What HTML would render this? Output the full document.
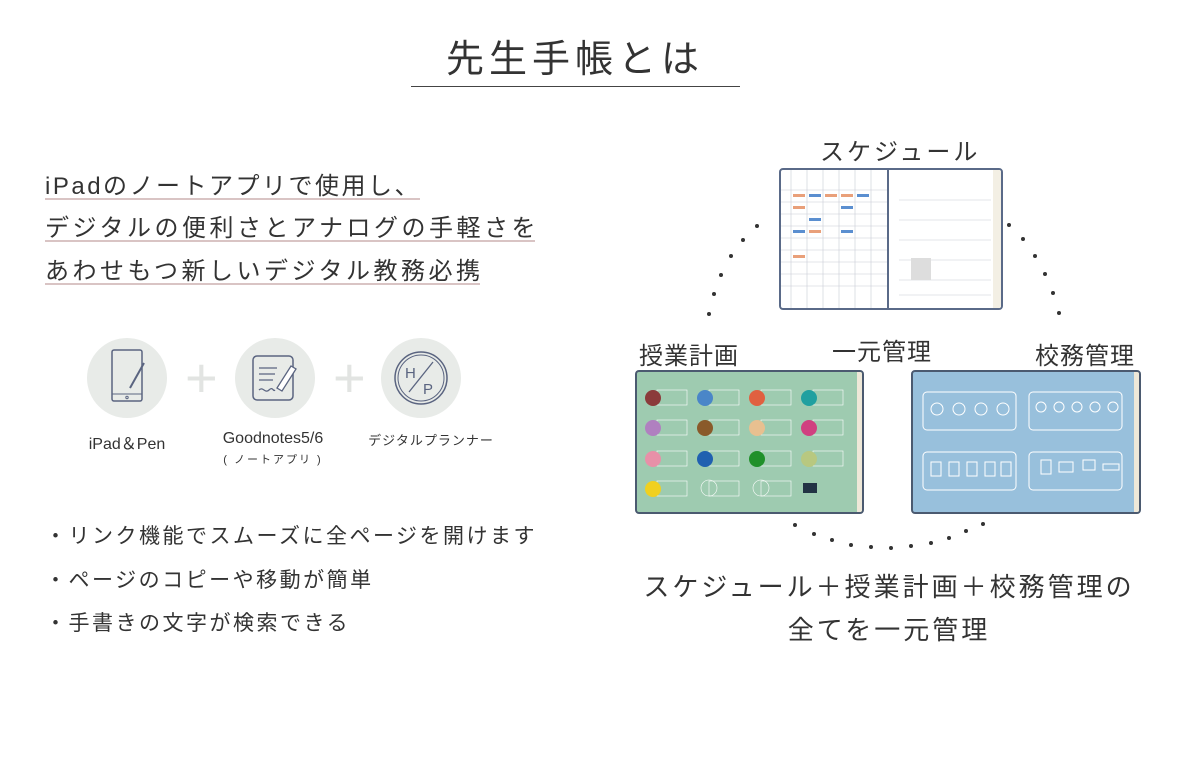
<!DOCTYPE html>
<html><head><meta charset="utf-8"><style>
*{margin:0;padding:0;box-sizing:border-box}
body{width:1200px;height:764px;background:#fff;position:relative;overflow:hidden;font-family:"Liberation Sans","Noto Sans CJK JP",sans-serif;color:#333}
.a{position:absolute;white-space:nowrap}
.ul{position:absolute;height:2px;background:#d9c4c4}
.circ{position:absolute;width:80px;height:80px;border-radius:50%;background:#e8ebe8}
.plus{position:absolute;color:#e2e4e2;font-size:56px;font-weight:100;line-height:1}
.lab{position:absolute;font-size:16px;text-align:center;transform:translateX(-50%)}
.dot{position:absolute;width:4px;height:4px;border-radius:50%;background:#333}
</style></head><body>
<div class="a" style="left:0;width:1150px;text-align:center;top:28px;font-size:38px;letter-spacing:5px">先生手帳とは</div>
<div style="position:absolute;left:411px;top:86px;width:329px;height:1px;background:#444"></div>

<div class="a" style="left:45px;top:166px;font-size:24px;letter-spacing:2.5px">iPadのノートアプリで使用し、</div>
<div class="ul" style="left:45px;top:198px;width:375px"></div>
<div class="a" style="left:45px;top:208px;font-size:24px;letter-spacing:3.5px">デジタルの便利さとアナログの手軽さを</div>
<div class="ul" style="left:45px;top:240px;width:490px"></div>
<div class="a" style="left:45px;top:251px;font-size:24px;letter-spacing:3.5px">あわせもつ新しいデジタル教務必携</div>
<div class="ul" style="left:45px;top:283px;width:435px"></div>

<div class="circ" style="left:87px;top:338px"></div>
<div class="circ" style="left:235px;top:338px"></div>
<div class="circ" style="left:381px;top:338px"></div>
<div class="plus" style="left:185px;top:350px">+</div>
<div class="plus" style="left:333px;top:350px">+</div>
<svg class="a" style="left:87px;top:338px" width="80" height="80" viewBox="0 0 80 80"><rect x="25" y="12" width="30" height="51" rx="2" fill="none" stroke="#5a6480" stroke-width="1.5"/><line x1="25" y1="56" x2="55" y2="56" stroke="#5a6480"/><circle cx="40" cy="59.5" r="1.2" fill="none" stroke="#5a6480"/><line x1="43" y1="50" x2="57" y2="25" stroke="#5a6480" stroke-width="2"/></svg>
<svg class="a" style="left:235px;top:338px" width="80" height="80" viewBox="0 0 80 80"><rect x="18" y="18" width="40" height="44" rx="4" fill="none" stroke="#5a6480" stroke-width="1.5"/><path d="M24 30h18M24 36h16M24 42h14M24 52c4-4 6 4 10 0s4 2 6 0" fill="none" stroke="#5a6480" stroke-width="1.3"/><path d="M42 50l14-22 5 3-14 22z" fill="#fff" stroke="#5a6480" stroke-width="1.3"/></svg>
<svg class="a" style="left:381px;top:338px" width="80" height="80" viewBox="0 0 80 80"><circle cx="40" cy="40" r="26" fill="none" stroke="#5a6480" stroke-width="1.5"/><circle cx="40" cy="40" r="23" fill="none" stroke="#5a6480"/><line x1="28" y1="54" x2="52" y2="24" stroke="#5a6480" stroke-width="1.3"/><text x="24" y="40" font-size="15" fill="#5a6480" font-family="Liberation Sans">H</text><text x="42" y="56" font-size="15" fill="#5a6480" font-family="Liberation Sans">P</text></svg>
<div class="lab" style="left:127px;top:430px">iPad＆Pen</div>
<div class="lab" style="left:273px;top:430px">Goodnotes5/6</div>
<div class="lab" style="left:273px;top:451px;font-size:11px;letter-spacing:2px">( ノートアプリ )</div>
<div class="lab" style="left:431px;top:430px;font-size:13px;letter-spacing:1px">デジタルプランナー</div>

<div class="a" style="left:45px;top:520px;font-size:21px;letter-spacing:2.5px">・リンク機能でスムーズに全ページを開けます</div>
<div class="a" style="left:45px;top:564px;font-size:21px;letter-spacing:2.5px">・ページのコピーや移動が簡単</div>
<div class="a" style="left:45px;top:607px;font-size:21px;letter-spacing:2.5px">・手書きの文字が検索できる</div>

<div class="a" style="left:820px;top:132px;font-size:24px;letter-spacing:3px">スケジュール</div>
<div class="a" style="left:639px;top:336px;font-size:24px;letter-spacing:1px">授業計画</div>
<div class="a" style="left:832px;top:332px;font-size:24px;letter-spacing:1px">一元管理</div>
<div class="a" style="left:1035px;top:336px;font-size:24px;letter-spacing:1px">校務管理</div>
<div class="a" style="left:0;width:1778px;text-align:center;top:567px;font-size:26px;letter-spacing:3px">スケジュール＋授業計画＋校務管理の</div>
<div class="a" style="left:0;width:1778px;text-align:center;top:610px;font-size:26px;letter-spacing:3px">全てを一元管理</div>

<!-- schedule -->
<div style="position:absolute;left:779px;top:168px;width:224px;height:142px;border:2px solid #5a6a88;border-radius:4px;background:#fff;overflow:hidden">
<svg width="224" height="142" style="position:absolute;left:0;top:0">
<g stroke="#c8ccd6" stroke-width="0.6">
<line x1="10" y1="0" x2="10" y2="142"/><line x1="26" y1="0" x2="26" y2="142"/><line x1="42" y1="0" x2="42" y2="142"/><line x1="58" y1="0" x2="58" y2="142"/><line x1="74" y1="0" x2="74" y2="142"/><line x1="90" y1="0" x2="90" y2="142"/>
<line x1="0" y1="20" x2="106" y2="20"/><line x1="0" y1="32" x2="106" y2="32"/><line x1="0" y1="44" x2="106" y2="44"/><line x1="0" y1="56" x2="106" y2="56"/><line x1="0" y1="68" x2="106" y2="68"/><line x1="0" y1="80" x2="106" y2="80"/><line x1="0" y1="92" x2="106" y2="92"/><line x1="0" y1="104" x2="106" y2="104"/><line x1="0" y1="116" x2="106" y2="116"/>
<line x1="118" y1="30" x2="210" y2="30"/><line x1="118" y1="50" x2="210" y2="50"/><line x1="118" y1="70" x2="210" y2="70"/><line x1="118" y1="90" x2="210" y2="90"/><line x1="118" y1="110" x2="210" y2="110"/><line x1="118" y1="125" x2="210" y2="125"/>
</g>
<line x1="107" y1="0" x2="107" y2="142" stroke="#5a6a88" stroke-width="2"/>
<g fill="#e9a07a"><rect x="12" y="24" width="12" height="3"/><rect x="44" y="24" width="12" height="3"/><rect x="60" y="24" width="12" height="3"/><rect x="12" y="36" width="12" height="3"/><rect x="28" y="60" width="12" height="3"/><rect x="12" y="85" width="12" height="3"/></g>
<g fill="#5b8fd0"><rect x="28" y="24" width="12" height="3"/><rect x="76" y="24" width="12" height="3"/><rect x="60" y="36" width="12" height="3"/><rect x="12" y="60" width="12" height="3"/><rect x="28" y="48" width="12" height="3"/><rect x="60" y="60" width="12" height="3"/></g>
<rect x="130" y="88" width="20" height="22" fill="#ddd"/><rect x="212" y="0" width="12" height="142" fill="#f3efe4"/>
</svg></div>
<!-- green -->
<div style="position:absolute;left:635px;top:370px;width:229px;height:144px;border:2px solid #4b5a70;border-radius:4px;background:#9ecbb0;overflow:hidden">
<svg width="229" height="144" style="position:absolute;left:0;top:0">
<g stroke="#fff" stroke-width="0.6" fill="none">
<rect x="20" y="18" width="30" height="15"/><rect x="72" y="18" width="30" height="15"/><rect x="124" y="18" width="30" height="15"/><rect x="176" y="18" width="30" height="15"/>
<rect x="20" y="48" width="30" height="15"/><rect x="72" y="48" width="30" height="15"/><rect x="124" y="48" width="30" height="15"/><rect x="176" y="48" width="30" height="15"/>
<rect x="20" y="79" width="30" height="15"/><rect x="72" y="79" width="30" height="15"/><rect x="124" y="79" width="30" height="15"/><rect x="176" y="79" width="30" height="15"/>
<rect x="20" y="109" width="30" height="15"/><rect x="72" y="109" width="30" height="15"/><rect x="124" y="109" width="30" height="15"/><circle cx="72" cy="116" r="8"/><circle cx="124" cy="116" r="8"/></g>
<circle cx="16" cy="26" r="8" fill="#8b3b3b"/><circle cx="68" cy="26" r="8" fill="#4a86c8"/><circle cx="120" cy="26" r="8" fill="#e06040"/><circle cx="172" cy="26" r="8" fill="#20a0a0"/>
<circle cx="16" cy="56" r="8" fill="#b080c0"/><circle cx="68" cy="56" r="8" fill="#8a5a2a"/><circle cx="120" cy="56" r="8" fill="#e8c090"/><circle cx="172" cy="56" r="8" fill="#d04080"/>
<circle cx="16" cy="87" r="8" fill="#e890a8"/><circle cx="68" cy="87" r="8" fill="#2060b0"/><circle cx="120" cy="87" r="8" fill="#20902a"/><circle cx="172" cy="87" r="8" fill="#b8c880"/>
<circle cx="16" cy="117" r="8" fill="#f0d020"/><rect x="166" y="111" width="14" height="10" fill="#234"/>
<rect x="220" y="0" width="9" height="144" fill="#eee8d8"/></svg></div>
<!-- blue -->
<div style="position:absolute;left:911px;top:370px;width:230px;height:144px;border:2px solid #4b5a70;border-radius:4px;background:#98c0dc;overflow:hidden">
<svg width="230" height="144" style="position:absolute;left:0;top:0">
<g stroke="#fff" stroke-width="1" fill="none">
<rect x="10" y="20" width="93" height="38" rx="4"/><rect x="116" y="20" width="93" height="38" rx="4"/>
<rect x="10" y="80" width="93" height="38" rx="4"/><rect x="116" y="80" width="93" height="38" rx="4"/>
<circle cx="24" cy="37" r="6"/><circle cx="46" cy="37" r="6"/><circle cx="68" cy="37" r="6"/><circle cx="90" cy="37" r="6"/>
<circle cx="128" cy="35" r="5"/><circle cx="146" cy="35" r="5"/><circle cx="164" cy="35" r="5"/><circle cx="182" cy="35" r="5"/><circle cx="200" cy="35" r="5"/>
<rect x="18" y="90" width="10" height="14"/><rect x="36" y="90" width="10" height="14"/><rect x="54" y="90" width="10" height="14"/><rect x="72" y="90" width="10" height="14"/><rect x="88" y="90" width="10" height="14"/>
<rect x="128" y="88" width="10" height="14"/><rect x="146" y="90" width="14" height="10"/><rect x="170" y="88" width="12" height="10"/><rect x="190" y="92" width="16" height="6"/></g>
<rect x="221" y="0" width="9" height="144" fill="#eee8d8"/></svg></div>

<!-- dots -->
<div class="dot" style="left:707px;top:312px"></div><div class="dot" style="left:712px;top:292px"></div><div class="dot" style="left:719px;top:273px"></div><div class="dot" style="left:729px;top:254px"></div><div class="dot" style="left:741px;top:238px"></div><div class="dot" style="left:755px;top:224px"></div>
<div class="dot" style="left:1007px;top:223px"></div><div class="dot" style="left:1021px;top:237px"></div><div class="dot" style="left:1033px;top:254px"></div><div class="dot" style="left:1043px;top:272px"></div><div class="dot" style="left:1051px;top:291px"></div><div class="dot" style="left:1057px;top:311px"></div>
<div class="dot" style="left:793px;top:523px"></div><div class="dot" style="left:812px;top:532px"></div><div class="dot" style="left:830px;top:538px"></div><div class="dot" style="left:849px;top:543px"></div><div class="dot" style="left:869px;top:545px"></div><div class="dot" style="left:889px;top:546px"></div><div class="dot" style="left:909px;top:544px"></div><div class="dot" style="left:929px;top:541px"></div><div class="dot" style="left:947px;top:536px"></div><div class="dot" style="left:964px;top:529px"></div><div class="dot" style="left:981px;top:522px"></div>
</body></html>
